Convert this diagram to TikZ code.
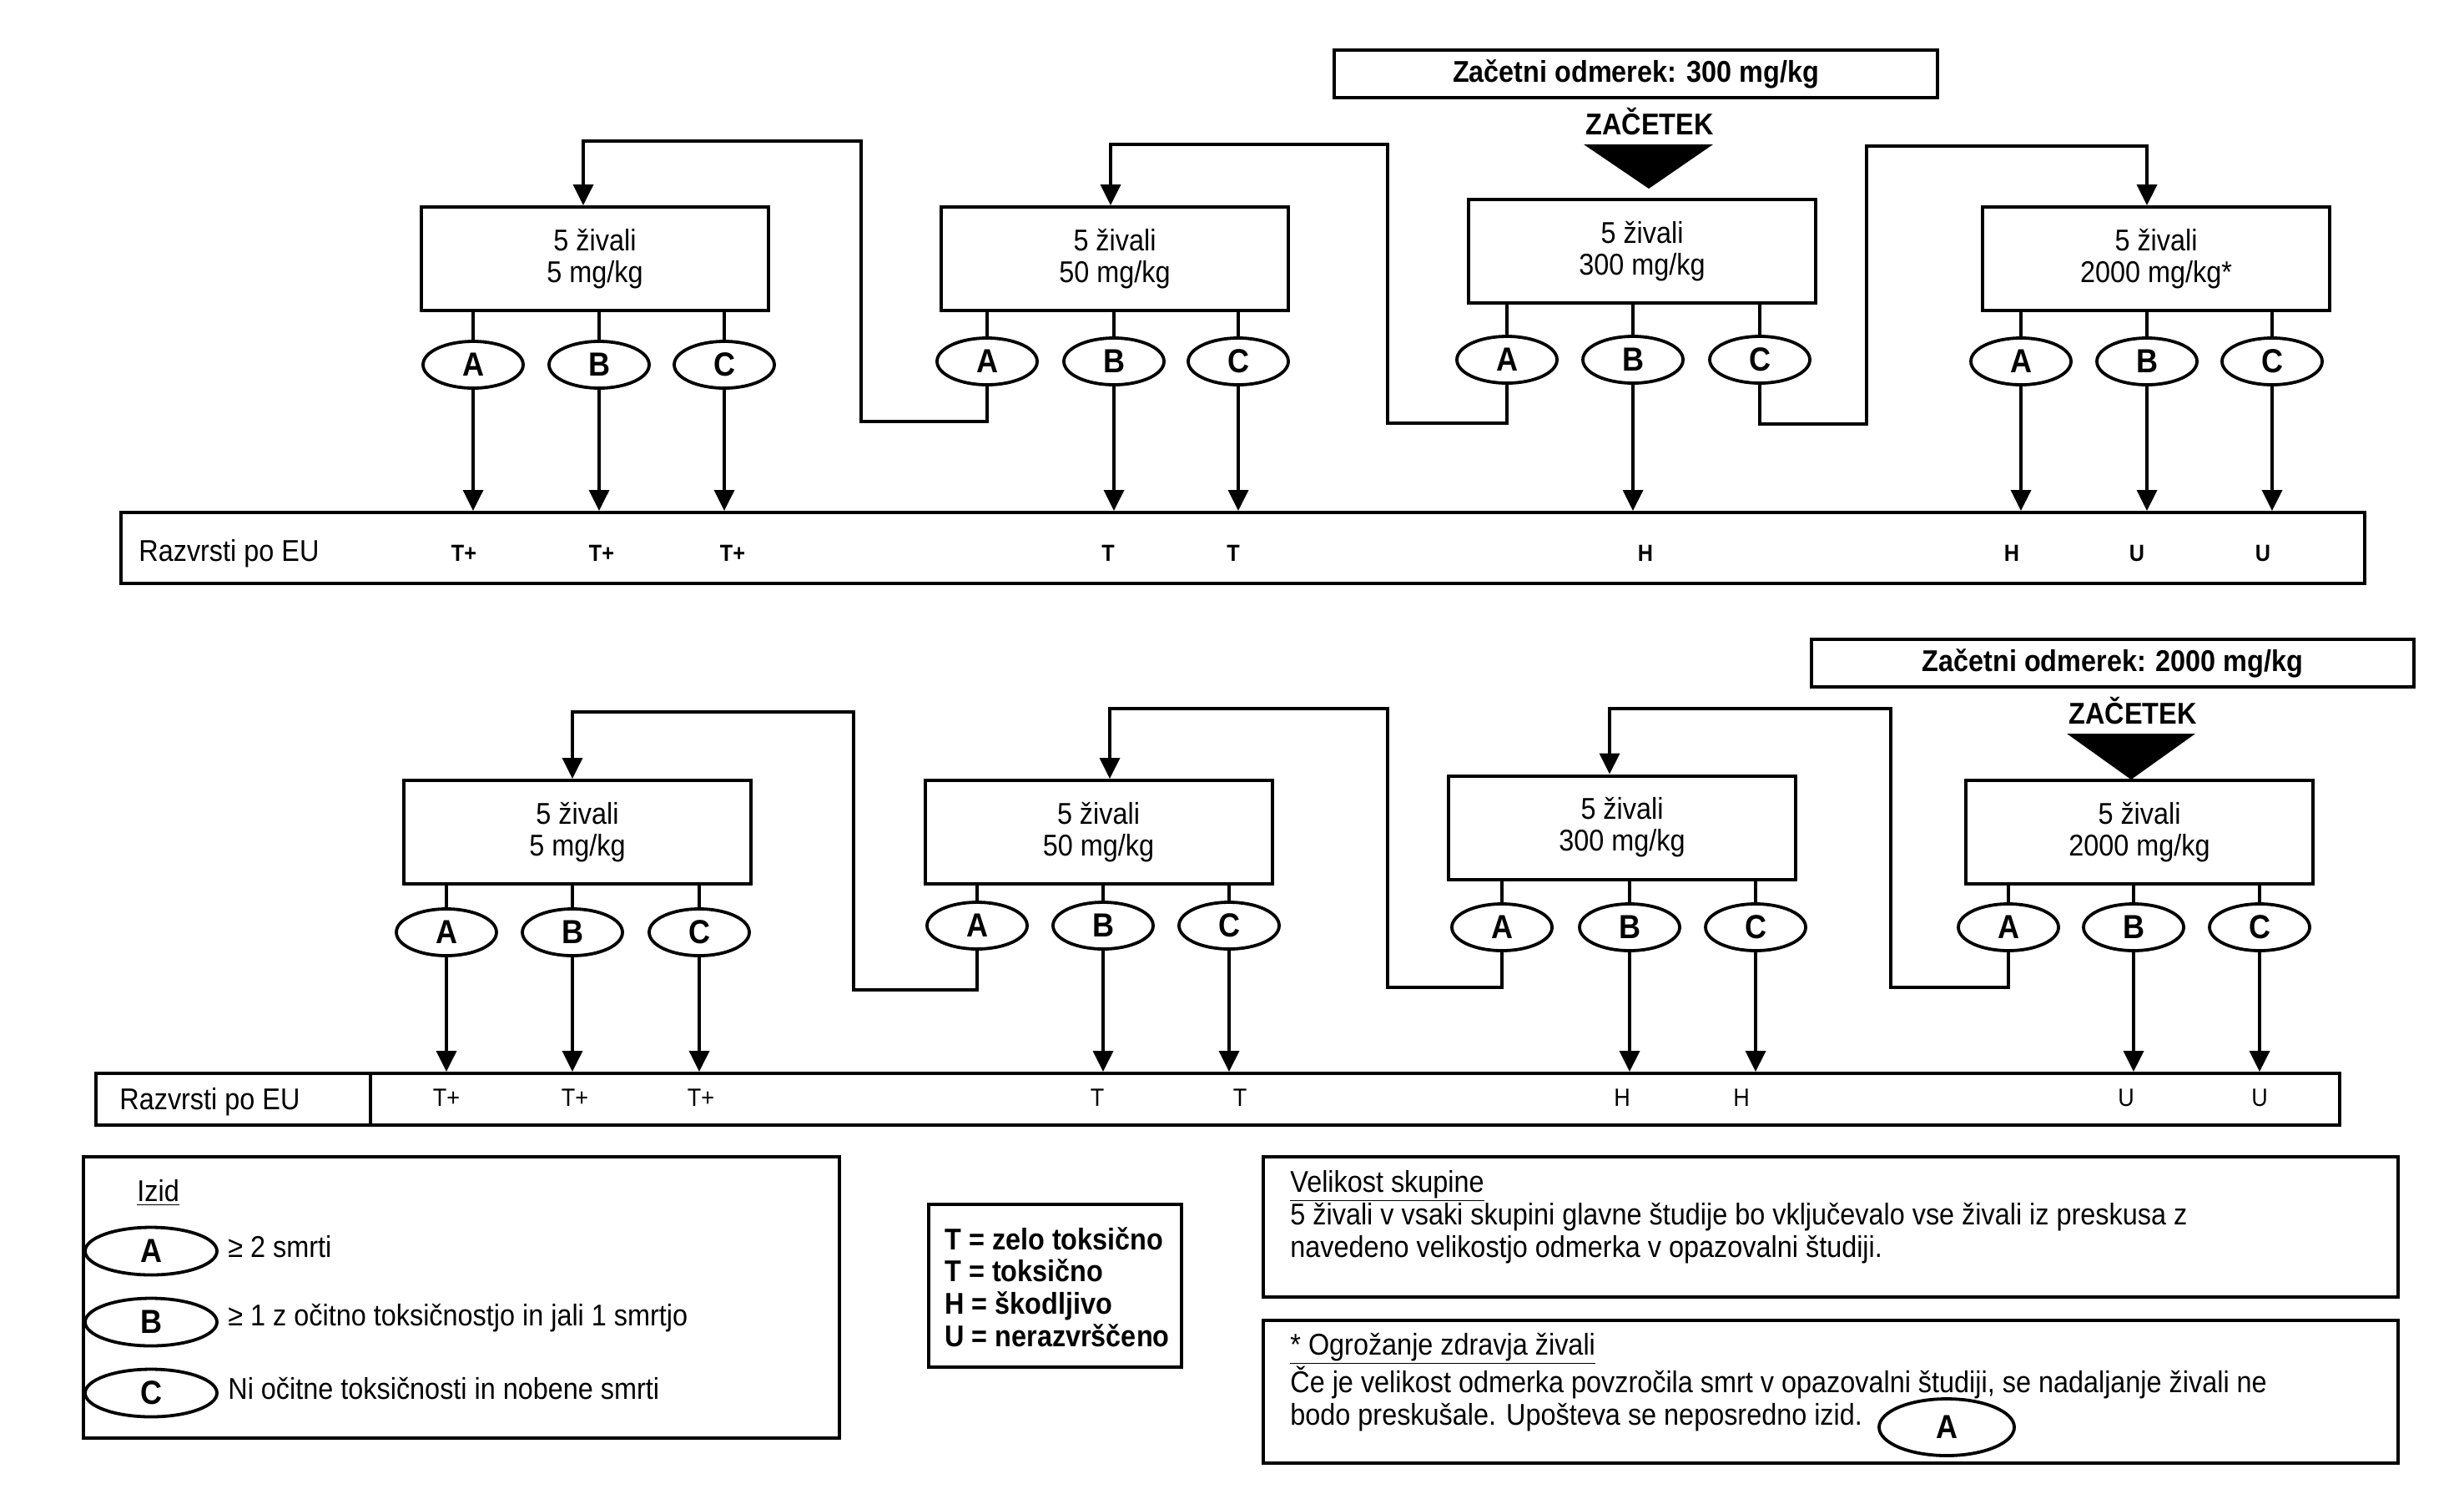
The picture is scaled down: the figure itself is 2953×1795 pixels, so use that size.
\documentclass[tikz,border=0pt]{standalone}
\usepackage{fontspec}
\setmainfont[FakeStretch=0.9]{Liberation Sans}
\usetikzlibrary{shapes.geometric,arrows.meta}
\newcommand{\fsz}{\fontsize{18}{19}\selectfont}
\newcommand{\bfsz}{\bfseries\fontsize{18}{19.3}\selectfont}
\begin{document}
\begin{tikzpicture}[x=0.5pt,y=-0.5pt,
  box/.style={draw, line width=2pt, inner sep=0pt, align=center, font=\fsz, minimum width=208pt, minimum height=62pt},
  frame/.style={draw, line width=2pt, inner sep=0pt},
  ell/.style={draw, ellipse, line width=1.9pt, inner sep=0pt, minimum width=60pt, minimum height=28pt, font=\bfseries\fontsize{20}{20}\selectfont},
  lell/.style={draw, ellipse, line width=1.9pt, inner sep=0pt, minimum width=79pt, minimum height=28.5pt, font=\bfseries\fontsize{20}{20}\selectfont},
  cls/.style={font=\bfseries\fontsize{14}{14}\selectfont, inner sep=0pt},
  clsr/.style={font=\fontsize{15}{15}\selectfont, inner sep=0pt},
  txt/.style={font=\fsz, inner sep=0pt, anchor=west, align=left},
  ln/.style={line width=1.8pt},
  arr/.style={line width=1.8pt, -{Triangle[length=12.5pt,width=12pt]}}
]
\useasboundingbox (0,0) rectangle (2953,1795);

% ================= TOP PART =================
\node[frame, minimum width=361.5pt, minimum height=28.5pt, font=\bfsz] (tstart) at (1960.5,88.5) {Začetni odmerek: 300 mg/kg};
\node[font=\bfsz, inner sep=0pt] (tzac) at (1977,146) {ZAČETEK};
\fill (1898,173) -- (2053,173) -- (1976,226) -- cycle;

\node[box] (t5) at (713,310) {5 živali\\5 mg/kg};
\node[box] (t50) at (1336,310) {5 živali\\50 mg/kg};
\node[box] (t300) at (1968,301) {5 živali\\300 mg/kg};
\node[box] (t2000) at (2584,310) {5 živali\\2000 mg/kg*};

\node[ell] (t5a) at (567,437) {A};
\node[ell] (t5b) at (718,437) {B};
\node[ell] (t5c) at (868,437) {C};
\node[ell] (t50a) at (1183,433) {A};
\node[ell] (t50b) at (1335,433) {B};
\node[ell] (t50c) at (1484,433) {C};
\node[ell] (t300a) at (1806,431) {A};
\node[ell] (t300b) at (1957,431) {B};
\node[ell] (t300c) at (2109,431) {C};
\node[ell] (t2000a) at (2422,433) {A};
\node[ell] (t2000b) at (2573,433) {B};
\node[ell] (t2000c) at (2723,433) {C};

\foreach \b in {t5,t50,t300,t2000}{
  \foreach \e in {a,b,c}{
    \draw[ln] (\b\e.north) -- (\b\e.north |- \b.south);
  }
}

\node[frame, minimum width=1344.5pt, minimum height=42.5pt] (tbar) at (1489.5,656.5) {};
\node[txt] (tbarl) at (166,663) {Razvrsti po EU};
\node[cls] (tl1) at (556,663) {T+};
\node[cls] (tl2) at (721,663) {T+};
\node[cls] (tl3) at (878,663) {T+};
\node[cls] (tl4) at (1328,663) {T};
\node[cls] (tl5) at (1478,663) {T};
\node[cls] (tl6) at (1972,663) {H};
\node[cls] (tl7) at (2411,663) {H};
\node[cls] (tl8) at (2561,663) {U};
\node[cls] (tl9) at (2712,663) {U};

\foreach \e in {t5a,t5b,t5c,t50b,t50c,t300b,t2000a,t2000b,t2000c}{
  \draw[arr] (\e.south) -- (\e.south |- tbar.north);
}

\coordinate (k1) at (699,169);
\coordinate (k2) at (1331,173);
\coordinate (k3) at (2573,175);
\draw[arr] (t50a.south) |- (1032,505) |- (k1) -- (k1 |- t5.north);
\draw[arr] (t300a.south) |- (1663,507) |- (k2) -- (k2 |- t50.north);
\draw[arr] (t300c.south) |- (2237,508) |- (k3) -- (k3 |- t2000.north);

% ================= BOTTOM PART =================
\node[frame, minimum width=361pt, minimum height=28.5pt, font=\bfsz] (bstart) at (2532,794.5) {Začetni odmerek: 2000 mg/kg};
\node[font=\bfsz, inner sep=0pt] (bzac) at (2556,852) {ZAČETEK};
\fill (2477,879) -- (2631,879) -- (2554,934) -- cycle;

\node[box] (b5) at (692,997) {5 živali\\5 mg/kg};
\node[box] (b50) at (1316.5,997) {5 živali\\50 mg/kg};
\node[box] (b300) at (1944,991.5) {5 živali\\300 mg/kg};
\node[box] (b2000) at (2564,997) {5 živali\\2000 mg/kg};

\node[ell] (b5a) at (535,1117) {A};
\node[ell] (b5b) at (686,1117) {B};
\node[ell] (b5c) at (838,1117) {C};
\node[ell] (b50a) at (1171,1109) {A};
\node[ell] (b50b) at (1322,1109) {B};
\node[ell] (b50c) at (1473,1109) {C};
\node[ell] (b300a) at (1800,1111) {A};
\node[ell] (b300b) at (1953,1111) {B};
\node[ell] (b300c) at (2104,1111) {C};
\node[ell] (b2000a) at (2407,1111) {A};
\node[ell] (b2000b) at (2557,1111) {B};
\node[ell] (b2000c) at (2708,1111) {C};

\foreach \b in {b5,b50,b300,b2000}{
  \foreach \e in {a,b,c}{
    \draw[ln] (\b\e.north) -- (\b\e.north |- \b.south);
  }
}

\node[frame, minimum width=164.5pt, minimum height=31pt] (bbarl) at (279.5,1317) {};
\node[frame, minimum width=1180pt, minimum height=31pt] (bbar) at (1624,1317) {};
\node[txt] (bbart) at (143,1320) {Razvrsti po EU};
\node[clsr] (bl1) at (535,1315) {T+};
\node[clsr] (bl2) at (689,1315) {T+};
\node[clsr] (bl3) at (840,1315) {T+};
\node[clsr] (bl4) at (1315,1315) {T};
\node[clsr] (bl5) at (1486,1315) {T};
\node[clsr] (bl6) at (1944,1315) {H};
\node[clsr] (bl7) at (2087,1315) {H};
\node[clsr] (bl8) at (2548,1315) {U};
\node[clsr] (bl9) at (2708,1315) {U};

\foreach \e in {b5a,b5b,b5c,b50b,b50c,b300b,b300c,b2000b,b2000c}{
  \draw[arr] (\e.south) -- (\e.south |- bbar.north);
}

\coordinate (k4) at (686,853);
\coordinate (k5) at (1330,849);
\coordinate (k6) at (1929,849);
\draw[arr] (b50a.south) |- (1023,1186) |- (k4) -- (k4 |- b5.north);
\draw[arr] (b300a.south) |- (1663,1183) |- (k5) -- (k5 |- b50.north);
\draw[arr] (b2000a.south) |- (2266,1183) |- (k6) -- (k6 |- b300.north);

% ================= LEGEND =================
\node[frame, minimum width=453pt, minimum height=168.5pt] (izid) at (553,1554.5) {};
\node[txt] (izidt) at (164,1429) {\underline{Izid}};
\node[lell] (la) at (181,1499) {A};
\node[lell] (lb) at (181,1584) {B};
\node[lell] (lc) at (181,1669) {C};
\node[txt] (lat) at (273,1494) {≥ 2 smrti};
\node[txt] (lbt) at (273,1579) {≥ 1 z očitno toksičnostjo in jali 1 smrtjo};
\node[txt] (lct) at (273,1664) {Ni očitne toksičnosti in nobene smrti};

\node[frame, minimum width=151.5pt, minimum height=97.5pt] (tleg) at (1264.5,1540.5) {};
\node[txt, font=\bfsz] (tlegt) at (1132,1542) {T = zelo toksično\\T = toksično\\H = škodljivo\\U = nerazvrščeno};

\node[frame, minimum width=680pt, minimum height=84pt] (vel) at (2194,1470) {};
\node[txt, font=\fontsize{18}{19.4}\selectfont] (velt) at (1546,1458) {\underline{Velikost skupine}\\5 živali v vsaki skupini glavne študije bo vključevalo vse živali iz preskusa z\\navedeno velikostjo odmerka v opazovalni študiji.};

\node[frame, minimum width=680pt, minimum height=85.5pt] (ogr) at (2194,1667.5) {};
\node[txt, font=\fontsize{18}{19.4}\selectfont] (ogrt) at (1546,1656) {\underline{* Ogrožanje zdravja živali}\\Če je velikost odmerka povzročila smrt v opazovalni študiji, se nadaljanje živali ne\\bodo preskušale. Upošteva se neposredno izid.};
\node[lell, minimum width=81pt, minimum height=34pt] (ogra) at (2333,1710) {A};
\end{tikzpicture}
\end{document}
